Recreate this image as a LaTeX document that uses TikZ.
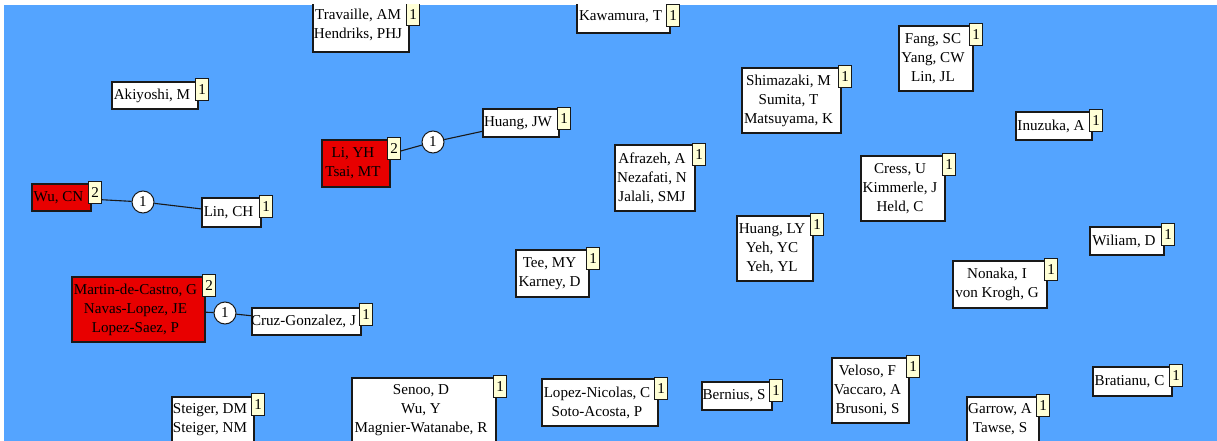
\documentclass[tikz,border=0pt]{standalone}
\usepackage{fontspec}
\setmainfont{Liberation Serif}
\definecolor{canvasblue}{RGB}{84,164,255}
\definecolor{groupred}{RGB}{232,0,0}
\definecolor{badgeyellow}{RGB}{255,255,214}
\pgfdeclarelayer{canvas}
\pgfdeclarelayer{links}
\pgfsetlayers{canvas,links,main}
\tikzset{
  authbox/.style={draw=black!90,line width=1.2pt,rectangle,inner sep=0pt},
  nametext/.style={font=\fontsize{15.1}{19}\selectfont,align=center,inner sep=0pt},
  badge/.style={draw=black!90,fill=badgeyellow,line width=1.2pt,rectangle,
    anchor=north west,minimum width=13pt,minimum height=22pt,inner sep=0pt,
    font=\fontsize{15.1}{19}\selectfont},
  linkcount/.style={draw=black!90,fill=white,line width=1pt,circle,minimum size=22pt,
    inner sep=0pt,font=\fontsize{15.1}{19}\selectfont},
  link/.style={draw=black!90,line width=1.1pt}
}
% #1 fill, #2 name, #3 left, #4 top, #5 right, #6 bottom, #7 author names
\newcommand\authbox[7][white]{%
  \node[authbox,fill=#1,minimum width={(#5-#3)*1pt},minimum height={(#6-#4)*1pt}]
    (#2) at ({(#3+#5)/2},{(#4+#6)/2}) {};
  \node[nametext] (#2-t) at ([xshift=-3pt]#2.center) {#7};
}
% #1 name, #2 left, #3 top, #4 count
\newcommand\countbadge[4]{\node[badge] (#1) at (#2,#3) {#4};}
\begin{document}
\begin{tikzpicture}[x=1pt,y=-1pt]
\begin{pgfonlayer}{canvas}
  \fill[white] (0,0) rectangle (1217,441);
  \fill[canvasblue] (4,5) rectangle (1217,441);
\end{pgfonlayer}
\useasboundingbox (0,0) rectangle (1217,441);
\begin{scope}
\clip (4,5) rectangle (1217,441);
% co-author groups
\authbox[groupred]{wu}{32}{184}{91}{211}{Wu, CN}
\countbadge{wu-b}{88}{181}{2}
\authbox{lin}{202}{198}{261}{227}{Lin, CH}
\countbadge{lin-b}{259}{195}{1}
\authbox[groupred]{martin}{72}{277}{205}{342}{Martin-de-Castro, G\\Navas-Lopez, JE\\Lopez-Saez, P}
\countbadge{martin-b}{202}{274}{2}
\authbox{cruz}{252}{308}{361}{335}{Cruz-Gonzalez, J}
\countbadge{cruz-b}{359}{303}{1}
\authbox[groupred]{liyh}{322}{140}{390}{187}{Li, YH\\Tsai, MT}
\countbadge{liyh-b}{387}{137}{2}
\authbox{huangjw}{483}{109}{559}{137}{Huang, JW}
\countbadge{huangjw-b}{557}{107}{1}
\authbox{travaille}{313}{-2}{409}{52}{Travaille, AM\\Hendriks, PHJ}
\countbadge{travaille-b}{406}{3}{1}
\authbox{kawamura}{577}{0}{670}{33}{Kawamura, T}
\countbadge{kawamura-b}{666}{4}{1}
\authbox{shimazaki}{742}{68}{841}{133}{Shimazaki, M\\Sumita, T\\Matsuyama, K}
\countbadge{shimazaki-b}{838}{65}{1}
\authbox{afrazeh}{615}{145}{695}{211}{Afrazeh, A\\Nezafati, N\\Jalali, SMJ}
\countbadge{afrazeh-b}{692}{143}{1}
\authbox{fang}{899}{26}{973}{91}{Fang, SC\\Yang, CW\\Lin, JL}
\countbadge{fang-b}{969}{23}{1}
\authbox{inuzuka}{1016}{112}{1092}{140}{Inuzuka, A}
\countbadge{inuzuka-b}{1089}{109}{1}
\authbox{cress}{861}{156}{945}{221}{Cress, U\\Kimmerle, J\\Held, C}
\countbadge{cress-b}{942}{153}{1}
\authbox{wiliam}{1090}{227}{1164}{255}{Wiliam, D}
\countbadge{wiliam-b}{1161}{223}{1}
\authbox{nonaka}{953}{261}{1047}{308}{Nonaka, I\\von Krogh, G}
\countbadge{nonaka-b}{1044}{258}{1}
\authbox{bratianu}{1093}{367}{1172}{396}{Bratianu, C}
\countbadge{bratianu-b}{1169}{364}{1}
\authbox{garrow}{967}{397}{1039}{442}{Garrow, A\\Tawse, S}
\countbadge{garrow-b}{1036}{394}{1}
\authbox{huangly}{737}{216}{813}{281}{Huang, LY\\Yeh, YC\\Yeh, YL}
\countbadge{huangly-b}{810}{213}{1}
\authbox{tee}{516}{250}{589}{297}{Tee, MY\\Karney, D}
\countbadge{tee-b}{586}{247}{1}
\authbox{akiyoshi}{112}{82}{198}{109}{Akiyoshi, M}
\countbadge{akiyoshi-b}{195}{78}{1}
\authbox{steiger}{172}{397}{254}{442}{Steiger, DM\\Steiger, NM}
\countbadge{steiger-b}{251}{393}{1}
\authbox{senoo}{352}{378}{496}{442}{Senoo, D\\Wu, Y\\Magnier-Watanabe, R}
\countbadge{senoo-b}{493}{375}{1}
\authbox{lopeznicolas}{542}{379}{658}{426}{Lopez-Nicolas, C\\Soto-Acosta, P}
\countbadge{lopeznicolas-b}{654}{377}{1}
\authbox{bernius}{702}{382}{772}{410}{Bernius, S}
\countbadge{bernius-b}{769}{379}{1}
\authbox{veloso}{832}{358}{909}{423}{Veloso, F\\Vaccaro, A\\Brusoni, S}
\countbadge{veloso-b}{906}{355}{1}
% link weights
\node[linkcount] (c1) at (143,202) {1};
\node[linkcount] (c2) at (225,313) {1};
\node[linkcount] (c3) at (433,142) {1};
\end{scope}
\begin{pgfonlayer}{links}
  \draw[link] (wu) -- (c1) -- (lin);
  \draw[link] (martin) -- (c2) -- (cruz);
  \draw[link] (liyh) -- (c3) -- (huangjw);
\end{pgfonlayer}
\end{tikzpicture}
\end{document}
